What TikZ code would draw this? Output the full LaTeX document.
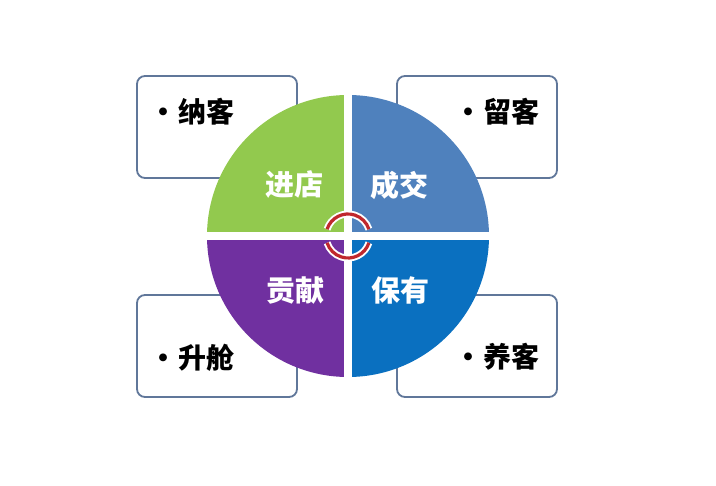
\documentclass[tikz,border=0pt]{standalone}
\usepackage{fontspec}
\newfontfamily\cjk{Noto Sans CJK SC}
\definecolor{qgreen}{HTML}{92C94E}
\definecolor{qblue}{HTML}{4F81BD}
\definecolor{qpurple}{HTML}{7030A0}
\definecolor{qdblue}{HTML}{0A70C0}
\definecolor{boxline}{HTML}{60779A}
\definecolor{arcred}{HTML}{C0282D}
\tikzset{
  infobox/.style={draw=boxline, line width=1.8pt, rounded corners=8pt, fill=white, minimum width=160pt, minimum height=102pt},
  quadlabel/.style={text=white, font=\cjk\bfseries\fontsize{29}{31}\selectfont, inner sep=0pt},
  boxlabel/.style={text=black, font=\cjk\bfseries\fontsize{28}{30}\selectfont, inner sep=0pt, anchor=west},
  gapline/.style={white, line width=8pt},
  cyclearc/.style={arcred, line width=3.2pt},
  cyclehalo/.style={white, line width=7pt}
}
\newcommand{\bul}{•\hspace{1pt}}
\begin{document}
\begin{tikzpicture}[x=1pt,y=-1pt]
\useasboundingbox[fill=white] (0,0) rectangle (716,486);
% boxes behind the circle
\node[infobox] (b1) at (217,127) {};
\node[infobox] (b2) at (477,127) {};
\node[infobox] (b3) at (217,346) {};
\node[infobox] (b4) at (477,346) {};
% circle quadrants (y axis points down)
\coordinate (c) at (348,236);
\fill[qgreen] (c) -- ++(180:141) arc[start angle=180,end angle=270,radius=141] -- cycle;
\fill[qblue] (c) -- ++(270:141) arc[start angle=270,end angle=360,radius=141] -- cycle;
\fill[qdblue] (c) -- ++(0:141) arc[start angle=0,end angle=90,radius=141] -- cycle;
\fill[qpurple] (c) -- ++(90:141) arc[start angle=90,end angle=180,radius=141] -- cycle;
\draw[gapline] ([yshift=-143]c) -- ([yshift=143]c);
\draw[gapline] ([xshift=-143]c) -- ([xshift=143]c);
% cycle arcs
\draw[cyclehalo] ([shift={(198:22)}]c) arc[start angle=198,end angle=342,radius=22];
\draw[cyclearc] ([shift={(198:22)}]c) arc[start angle=198,end angle=342,radius=22];
\draw[cyclehalo] ([shift={(18:22)}]c) arc[start angle=18,end angle=162,radius=22];
\draw[cyclearc] ([shift={(18:22)}]c) arc[start angle=18,end angle=162,radius=22];
% quadrant labels
\node[quadlabel] (q1) at (294,185) {进店};
\node[quadlabel] (q2) at (399,185) {成交};
\node[quadlabel] (q3) at (295,291) {贡献};
\node[quadlabel] (q4) at (400,290) {保有};
% box labels
\node[boxlabel] (l1) at (149,112) {\bul 纳客};
\node[boxlabel] (l2) at (454,112) {\bul 留客};
\node[boxlabel] (l3) at (149,358) {\bul 升舱};
\node[boxlabel] (l4) at (454,357) {\bul 养客};
\end{tikzpicture}
\end{document}
